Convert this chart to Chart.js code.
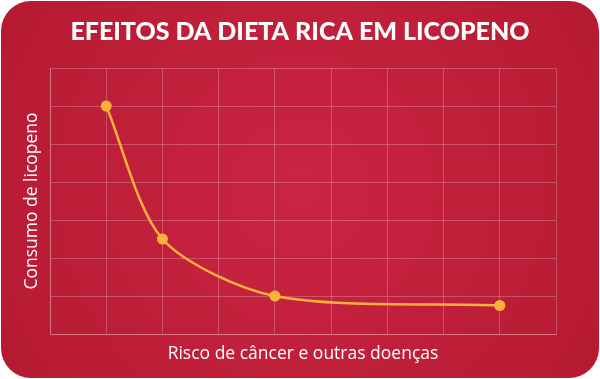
<!DOCTYPE html>
<html>
<head>
<meta charset="utf-8">
<script src="https://cdn.jsdelivr.net/npm/chart.js@4"></script>
<style>
  html, body { margin: 0; padding: 0; background: #fff; }
  #wrap { width: 600px; height: 379px; }
</style>
</head>
<body>
<div id="wrap"><canvas id="chart" width="600" height="379"></canvas></div>
<script>
const riskLevels = [1, 2, 4, 8];
const lycopeneIntake = [6, 2.5, 1, 0.75];
const xTicks = [0, 1, 2, 3, 4, 5, 6, 7, 8, 9];
const yTicks = [0, 1, 2, 3, 4, 5, 6, 7];

const points = riskLevels.map((x, i) => ({ x: x, y: lycopeneIntake[i] }));

// rounded red card behind everything
const cardBackground = {
  id: "cardBackground",
  beforeDraw(chart) {
    const c = chart.ctx;
    const w = chart.width, h = chart.height;
    c.save();
    const g = c.createRadialGradient(w / 2, h / 2, 20, w / 2, h / 2, w * 0.6);
    g.addColorStop(0, "#c92442");
    g.addColorStop(1, "#b51a30");
    c.fillStyle = g;
    c.beginPath();
    c.roundRect(1, 1, w - 2, h - 2, 30);
    c.fill();
    c.restore();
  },
};

const gridColor = "rgba(255,255,255,0.22)";

new Chart(document.getElementById("chart"), {
  type: "line",
  data: {
    datasets: [
      {
        data: points,
        borderColor: "#fbb13c",
        backgroundColor: "#fbb13c",
        borderWidth: 2.5,
        pointRadius: 5.5,
        pointBorderWidth: 0,
        tension: 0.28,
      },
    ],
  },
  options: {
    responsive: false,
    animation: false,
    layout: { padding: 0 },
    plugins: {
      legend: { display: false },
      tooltip: { enabled: false },
      title: {
        display: true,
        text: "EFEITOS DA DIETA RICA EM LICOPENO",
        color: "#ffffff",
        font: { family: "Lato", size: 25, weight: "900", lineHeight: 1.2 },
        padding: { top: 17, bottom: 21 },
      },
    },
    scales: {
      x: {
        type: "linear",
        min: xTicks[0],
        max: xTicks[xTicks.length - 1],
        afterBuildTicks(scale) {
          scale.ticks = xTicks.map((v) => ({ value: v }));
        },
        afterFit(scale) {
          scale.height = 45;
        },
        ticks: { display: false },
        grid: { color: gridColor, drawTicks: false },
        border: { color: gridColor },
        title: {
          display: true,
          text: "Risco de câncer e outras doenças",
          color: "#ffffff",
          font: { family: "Open Sans", size: 17.5, lineHeight: 1.2 },
          padding: { top: 0, bottom: 14 },
        },
      },
      y: {
        type: "linear",
        min: yTicks[0],
        max: yTicks[yTicks.length - 1],
        afterBuildTicks(scale) {
          scale.ticks = yTicks.map((v) => ({ value: v }));
        },
        afterFit(scale) {
          scale.width = 50;
        },
        ticks: { display: false },
        grid: { color: gridColor, drawTicks: false },
        border: { color: gridColor },
        title: {
          display: true,
          text: "Consumo de licopeno",
          color: "#ffffff",
          font: { family: "Open Sans", size: 17.5, lineHeight: 1.2 },
          padding: { top: 22, bottom: 0 },
        },
      },
      // empty right gutter so the title stays centred on the card
      gutter: {
        type: "linear",
        position: "right",
        display: true,
        afterFit(scale) {
          scale.width = 44;
        },
        ticks: { display: false },
        grid: { display: false, drawTicks: false },
        border: { display: false },
      },
    },
  },
  plugins: [cardBackground],
});
</script>
</body>
</html>
